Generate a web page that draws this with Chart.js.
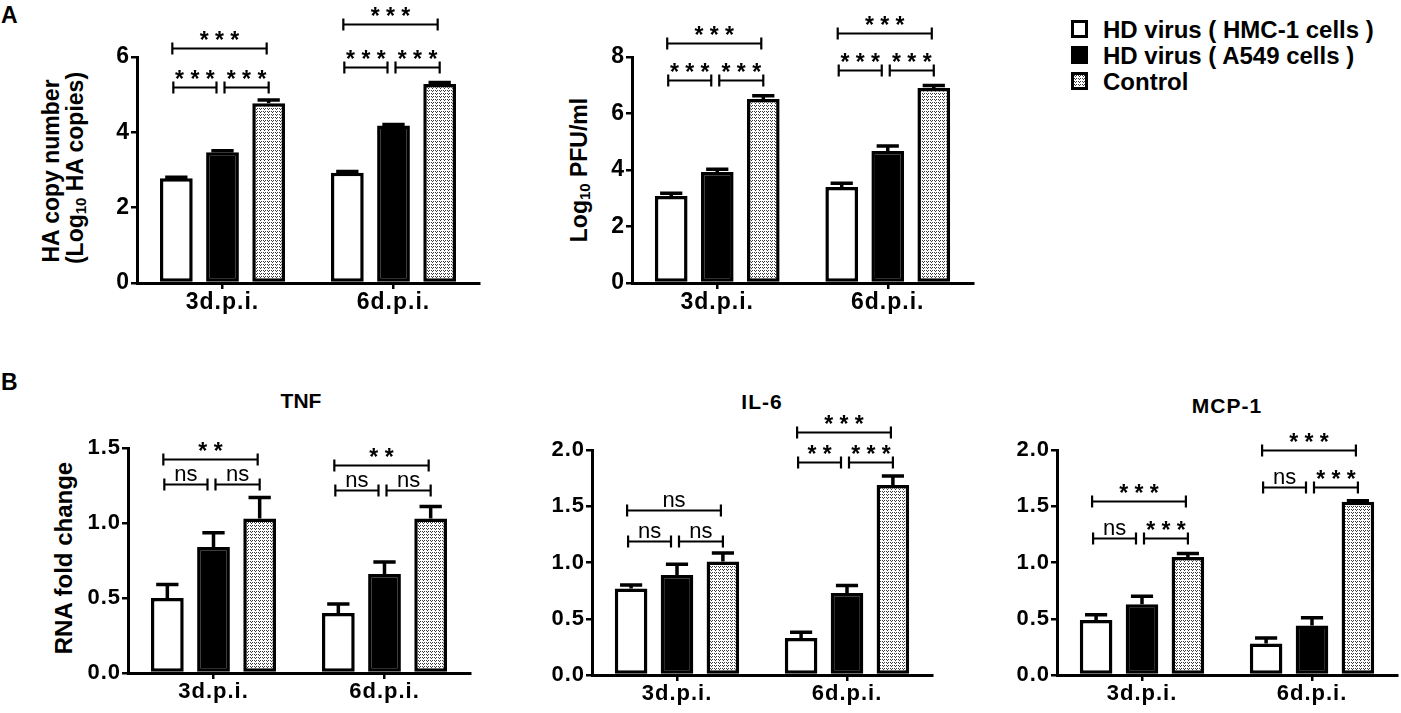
<!DOCTYPE html>
<html>
<head>
<meta charset="utf-8">
<script src="https://cdn.jsdelivr.net/npm/chart.js@4.4.1/dist/chart.umd.min.js"></script>
<style>
  html, body { margin: 0; padding: 0; background: #fff; }
  body { width: 1401px; height: 713px; position: relative; overflow: hidden;
         font-family: 'Liberation Sans', Arial, sans-serif; color: #000; }
  canvas { position: absolute; }
  .lbl { position: absolute; white-space: nowrap; font-weight: bold; line-height: 1; }
  .ctr { transform: translate(-50%, -50%); }
  .rot { transform: translate(-50%, -50%) rotate(-90deg); }
  .lbl sub { font-size: 0.65em; vertical-align: -0.25em; line-height: 0; }
  .swatch { position: absolute; width: 17px; height: 18px; box-sizing: border-box; border: 3px solid #000; }
</style>
</head>
<body>

<div class="lbl" style="left:1px; top:4px; font-size:23px;">A</div>
<div class="lbl" style="left:1px; top:371px; font-size:23px;">B</div>

<!-- titres des axes Y -->
<div class="lbl rot" style="left:51px; top:171px; font-size:23px;">HA copy number</div>
<div class="lbl rot" style="left:75px; top:168px; font-size:23px;">(Log<sub>10</sub> HA copies)</div>
<div class="lbl rot" style="left:579px; top:170px; font-size:23px;">Log<sub>10</sub> PFU/ml</div>
<div class="lbl rot" style="left:64px; top:558px; font-size:24px;">RNA fold change</div>

<!-- titres des panneaux B -->
<div class="lbl ctr" style="left:301px; top:400px; font-size:21px;">TNF</div>
<div class="lbl ctr" style="left:762px; top:401px; font-size:21px; letter-spacing:1px;">IL-6</div>
<div class="lbl ctr" style="left:1227px; top:405px; font-size:21px; letter-spacing:1px;">MCP-1</div>

<!-- légende -->
<div id="legend"></div>

<canvas id="chartHA"></canvas>
<canvas id="chartPFU"></canvas>
<canvas id="chartTNF"></canvas>
<canvas id="chartIL6"></canvas>
<canvas id="chartMCP"></canvas>

<script>
// --- données ---
const categories = ['3d.p.i.', '6d.p.i.'];
const seriesNames = ['HD virus ( HMC-1 cells )', 'HD virus ( A549 cells )', 'Control'];

// A : HA copy number (Log10 HA copies)
const haHmc = [2.78, 2.93];
const haA549 = [3.47, 4.18];
const haControl = [4.77, 5.28];
const haHmcErr = [0.03, 0.03];
const haA549Err = [0.04, 0.03];
const haControlErr = [0.09, 0.04];

// A : Log10 PFU/ml
const pfuHmc = [3.08, 3.40];
const pfuA549 = [3.93, 4.67];
const pfuControl = [6.51, 6.90];
const pfuHmcErr = [0.10, 0.13];
const pfuA549Err = [0.10, 0.18];
const pfuControlErr = [0.12, 0.09];

// B : TNF
const tnfHmc = [0.50, 0.40];
const tnfA549 = [0.84, 0.66];
const tnfControl = [1.03, 1.03];
const tnfHmcErr = [0.09, 0.06];
const tnfA549Err = [0.095, 0.08];
const tnfControlErr = [0.14, 0.08];

// B : IL-6
const il6Hmc = [0.77, 0.33];
const il6A549 = [0.89, 0.73];
const il6Control = [1.01, 1.69];
const il6HmcErr = [0.03, 0.05];
const il6A549Err = [0.095, 0.065];
const il6ControlErr = [0.075, 0.08];

// B : MCP-1
const mcpHmc = [0.49, 0.28];
const mcpA549 = [0.63, 0.44];
const mcpControl = [1.05, 1.54];
const mcpHmcErr = [0.045, 0.05];
const mcpA549Err = [0.07, 0.07];
const mcpControlErr = [0.03, 0.01];

// tests de significativité : catégorie, barres comparées, niveau (unités de l'axe), texte
const haSig = [
  { cat: 0, from: 0, to: 1, level: 5.2, text: '***' },
  { cat: 0, from: 1, to: 2, level: 5.2, text: '***' },
  { cat: 0, from: 0, to: 2, level: 6.25, text: '***' },
  { cat: 1, from: 0, to: 1, level: 5.73, text: '***' },
  { cat: 1, from: 1, to: 2, level: 5.73, text: '***' },
  { cat: 1, from: 0, to: 2, level: 6.88, text: '***' }
];
const pfuSig = [
  { cat: 0, from: 0, to: 1, level: 7.19, text: '***' },
  { cat: 0, from: 1, to: 2, level: 7.19, text: '***' },
  { cat: 0, from: 0, to: 2, level: 8.5, text: '***' },
  { cat: 1, from: 0, to: 1, level: 7.54, text: '***' },
  { cat: 1, from: 1, to: 2, level: 7.54, text: '***' },
  { cat: 1, from: 0, to: 2, level: 8.86, text: '***' }
];
const tnfSig = [
  { cat: 0, from: 0, to: 1, level: 1.26, text: 'ns' },
  { cat: 0, from: 1, to: 2, level: 1.26, text: 'ns' },
  { cat: 0, from: 0, to: 2, level: 1.43, text: '**' },
  { cat: 1, from: 0, to: 1, level: 1.22, text: 'ns' },
  { cat: 1, from: 1, to: 2, level: 1.22, text: 'ns' },
  { cat: 1, from: 0, to: 2, level: 1.39, text: '**' }
];
const il6Sig = [
  { cat: 0, from: 0, to: 1, level: 1.19, text: 'ns' },
  { cat: 0, from: 1, to: 2, level: 1.19, text: 'ns' },
  { cat: 0, from: 0, to: 2, level: 1.47, text: 'ns' },
  { cat: 1, from: 0, to: 1, level: 1.89, text: '**' },
  { cat: 1, from: 1, to: 2, level: 1.89, text: '***' },
  { cat: 1, from: 0, to: 2, level: 2.16, text: '***' }
];
const mcpSig = [
  { cat: 0, from: 0, to: 1, level: 1.22, text: 'ns' },
  { cat: 0, from: 1, to: 2, level: 1.22, text: '***' },
  { cat: 0, from: 0, to: 2, level: 1.55, text: '***' },
  { cat: 1, from: 0, to: 1, level: 1.67, text: 'ns' },
  { cat: 1, from: 1, to: 2, level: 1.67, text: '***' },
  { cat: 1, from: 0, to: 2, level: 2.0, text: '***' }
];

const FONT = "'Liberation Sans', Arial, sans-serif";
Chart.defaults.font.family = FONT;
Chart.defaults.color = '#000';

// motif pointillé pour "Control"
function makeDotPattern() {
  const tile = document.createElement('canvas');
  tile.width = 4; tile.height = 3;
  const c = tile.getContext('2d');
  c.fillStyle = '#fff';
  c.fillRect(0, 0, 4, 3);
  c.fillStyle = '#3a3a3a';
  c.fillRect(0, 0, 1, 1);
  c.fillRect(2, 0, 1, 1);
  c.fillRect(1, 1, 1, 1);
  return tile;
}
const patternTile = makeDotPattern();
const dotPattern = document.createElement('canvas').getContext('2d').createPattern(patternTile, 'repeat');

// légende
const legend = document.getElementById('legend');
const swatchTops = [20, 46, 72];
const swatchFills = ['#fff', '#000', 'url(' + patternTile.toDataURL() + ')'];
seriesNames.forEach((name, i) => {
  const sw = document.createElement('div');
  sw.className = 'swatch';
  sw.style.left = '1071px';
  sw.style.top = swatchTops[i] + 'px';
  sw.style.background = swatchFills[i];
  legend.appendChild(sw);
  const t = document.createElement('div');
  t.className = 'lbl';
  t.style.cssText = 'left:1103px; font-size:24px; top:' + (swatchTops[i] + 10 - 12) + 'px;';
  t.textContent = name;
  legend.appendChild(t);
});

// barres d'erreur (SEM, vers le haut uniquement)
const errorBarsPlugin = {
  id: 'errorBars',
  afterDatasetsDraw(chart) {
    const ctx = chart.ctx;
    const yScale = chart.scales.y;
    ctx.save();
    ctx.strokeStyle = '#000';
    ctx.lineWidth = 3.5;
    chart.data.datasets.forEach((ds, di) => {
      const meta = chart.getDatasetMeta(di);
      meta.data.forEach((bar, i) => {
        const err = ds.errors[i];
        const yTop = yScale.getPixelForValue(ds.data[i] + err);
        const half = bar.width * 0.34;
        ctx.beginPath();
        ctx.moveTo(bar.x, bar.y);
        ctx.lineTo(bar.x, yTop);
        ctx.moveTo(bar.x - half, yTop);
        ctx.lineTo(bar.x + half, yTop);
        ctx.stroke();
      });
    });
    ctx.restore();
  }
};

// crochets de significativité
const sigPlugin = {
  id: 'sigBrackets',
  afterDatasetsDraw(chart, args, opts) {
    const list = opts.items || [];
    const ctx = chart.ctx;
    const yScale = chart.scales.y;
    ctx.save();
    ctx.letterSpacing = '0px';
    ctx.strokeStyle = '#000';
    ctx.fillStyle = '#000';
    ctx.lineWidth = 2.2;
    list.forEach(s => {
      const c0 = chart.getDatasetMeta(s.from).data[s.cat].x;
      const c1 = chart.getDatasetMeta(s.to).data[s.cat].x;
      let x0, x1;
      if (s.from === 0 && s.to === 1) { x0 = c0 - 3; x1 = c1 - 6; }
      else if (s.from === 1 && s.to === 2) { x0 = c0 + 2; x1 = c1; }
      else { x0 = c0 - 4; x1 = c1 - 2; }
      const y = Math.round(yScale.getPixelForValue(s.level)) + 0.5;
      ctx.beginPath();
      ctx.moveTo(x0, y); ctx.lineTo(x1, y);
      ctx.moveTo(x0, y - 6); ctx.lineTo(x0, y + 6);
      ctx.moveTo(x1, y - 6); ctx.lineTo(x1, y + 6);
      ctx.stroke();
      ctx.textAlign = 'center';
      ctx.textBaseline = 'alphabetic';
      if (s.text === 'ns') {
        ctx.font = '22px ' + FONT;
        ctx.fillText('ns', (x0 + x1) / 2, y - 4);
      } else {
        ctx.font = 'bold 23px ' + FONT;
        ctx.fillText(s.text.split('').join(' '), (x0 + x1) / 2, y - 1);
      }
    });
    ctx.restore();
  }
};

// espacement des lettres sur les axes
const spacingPlugin = {
  id: 'letterSpacing',
  beforeDraw(chart) { chart.ctx.letterSpacing = '1px'; }
};

function makeDatasets(hmc, a549, ctrl, hmcErr, a549Err, ctrlErr) {
  const common = { borderColor: '#000', borderWidth: 3.5, borderSkipped: false,
                   categoryPercentage: 0.81, barPercentage: 0.71 };
  return [
    { label: seriesNames[0], data: hmc, errors: hmcErr, backgroundColor: '#fff', ...common },
    { label: seriesNames[1], data: a549, errors: a549Err, backgroundColor: '#000', ...common },
    { label: seriesNames[2], data: ctrl, errors: ctrlErr, backgroundColor: dotPattern, ...common }
  ];
}

function makeChart(id, area, yMax, yStep, decimals, datasets, sig, fontSize) {
  const yW = 50, padTop = area.padTop, xH = 38, padR = area.padR;
  const canvas = document.getElementById(id);
  const w = area.r - area.l + yW + padR;
  const h = area.b - area.t + padTop + xH;
  canvas.width = w; canvas.height = h;
  canvas.style.width = w + 'px';
  canvas.style.height = h + 'px';
  canvas.style.left = (area.l - yW) + 'px';
  canvas.style.top = (area.t - padTop) + 'px';

  return new Chart(canvas, {
    type: 'bar',
    data: { labels: categories, datasets: datasets },
    options: {
      responsive: false,
      devicePixelRatio: 1,
      animation: false,
      layout: { padding: { top: padTop, right: padR, left: 0, bottom: 0 } },
      plugins: {
        legend: { display: false },
        tooltip: { enabled: false },
        sigBrackets: { items: sig }
      },
      scales: {
        x: {
          ticks: { color: '#000', font: { size: fontSize, weight: 'bold' }, padding: 0 },
          grid: { display: true, drawOnChartArea: false, drawTicks: true, tickLength: 6,
                  offset: false, color: '#000', lineWidth: 2.5 },
          border: { display: true, color: '#000', width: 3 },
          afterFit: s => { s.height = xH; }
        },
        y: {
          min: 0, max: yMax,
          ticks: { stepSize: yStep, color: '#000', font: { size: fontSize, weight: 'bold' }, padding: 1,
                   callback: v => v.toFixed(decimals) },
          grid: { display: true, drawOnChartArea: false, drawTicks: true, tickLength: 6,
                  color: '#000', lineWidth: 2.5 },
          border: { display: true, color: '#000', width: 3 },
          afterFit: s => { s.width = yW; }
        }
      }
    },
    plugins: [spacingPlugin, errorBarsPlugin, sigPlugin]
  });
}

makeChart('chartHA', { l: 137, r: 479, t: 57, b: 283, padTop: 57, padR: 8 }, 6, 2, 0,
  makeDatasets(haHmc, haA549, haControl, haHmcErr, haA549Err, haControlErr), haSig, 23);

makeChart('chartPFU', { l: 632, r: 973, t: 57, b: 283, padTop: 57, padR: 8 }, 8, 2, 0,
  makeDatasets(pfuHmc, pfuA549, pfuControl, pfuHmcErr, pfuA549Err, pfuControlErr), pfuSig, 23);

makeChart('chartTNF', { l: 128, r: 470, t: 448, b: 673, padTop: 40, padR: 8 }, 1.5, 0.5, 1,
  makeDatasets(tnfHmc, tnfA549, tnfControl, tnfHmcErr, tnfA549Err, tnfControlErr), tnfSig, 22);

makeChart('chartIL6', { l: 592, r: 932, t: 450, b: 675, padTop: 40, padR: 8 }, 2, 0.5, 1,
  makeDatasets(il6Hmc, il6A549, il6Control, il6HmcErr, il6A549Err, il6ControlErr), il6Sig, 22);

makeChart('chartMCP', { l: 1057, r: 1397, t: 450, b: 675, padTop: 40, padR: 3 }, 2, 0.5, 1,
  makeDatasets(mcpHmc, mcpA549, mcpControl, mcpHmcErr, mcpA549Err, mcpControlErr), mcpSig, 22);
</script>
</body>
</html>
